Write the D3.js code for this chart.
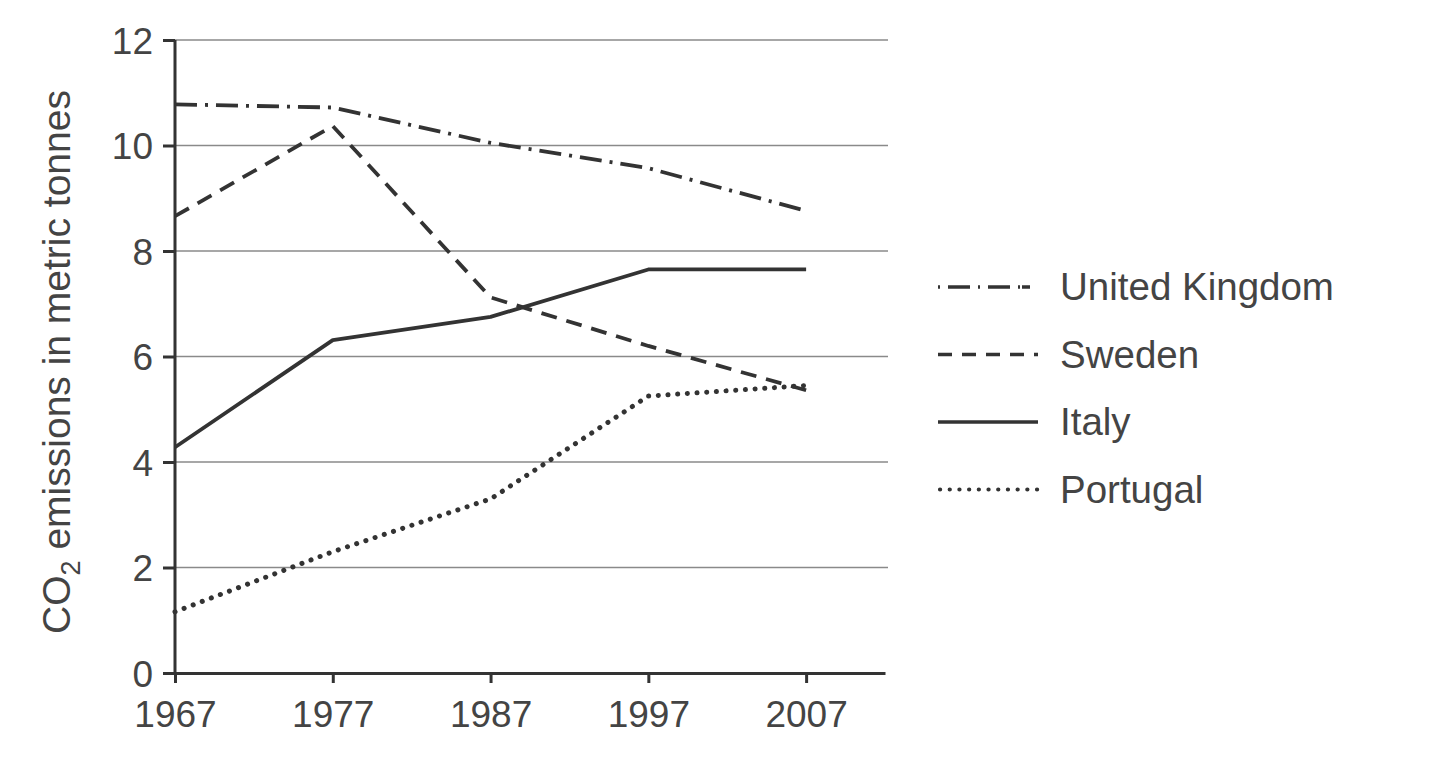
<!DOCTYPE html>
<html>
<head>
<meta charset="utf-8">
<script src="https://cdn.jsdelivr.net/npm/d3@7"></script>
<style>
  body { margin: 0; background: #fff; }
  svg { display: block; font-family: "Liberation Sans", Arial, sans-serif; }
</style>
</head>
<body>
<div id="chart"></div>
<script>
// data
const years = [1967, 1977, 1987, 1997, 2007];
const unitedKingdom = [10.78, 10.72, 10.05, 9.57, 8.76];
const sweden = [8.66, 10.37, 7.12, 6.2, 5.36];
const italy = [4.28, 6.31, 6.75, 7.65, 7.65];
const portugal = [1.16, 2.3, 3.3, 5.25, 5.45];
const yTicks = [0, 2, 4, 6, 8, 10, 12];

const series = [
    { name: "United Kingdom", values: unitedKingdom, dash: "22,8,3,8" },
    { name: "Sweden", values: sweden, dash: "16,10" },
    { name: "Italy", values: italy, dash: null },
    { name: "Portugal", values: portugal, dash: "0.1,9.6" }
];

const width = 1444, height = 766;
const marginLeft = 175, marginTop = 40, plotRight = 885, plotBottom = 673;

const svg = d3.select("#chart").append("svg")
    .attr("width", width)
    .attr("height", height);

const x = d3.scaleLinear().domain([1967, 2012]).range([marginLeft, plotRight]);
const y = d3.scaleLinear().domain([0, 12]).range([plotBottom, marginTop]);

// gridlines
svg.append("g")
    .selectAll("line")
    .data(yTicks.filter(d => d > 0))
    .enter().append("line")
    .attr("x1", marginLeft)
    .attr("x2", 888)
    .attr("y1", d => y(d))
    .attr("y2", d => y(d))
    .attr("stroke", "#8a8a8a")
    .attr("stroke-width", 1.6);

// axes
const yAxis = svg.append("g")
    .attr("transform", `translate(${marginLeft},0)`)
    .call(d3.axisLeft(y).tickValues(yTicks).tickSize(12).tickPadding(10).tickSizeOuter(0));

const xAxis = svg.append("g")
    .attr("transform", `translate(0,${plotBottom})`)
    .call(d3.axisBottom(x).tickValues(years).tickFormat(d3.format("d")).tickSize(10).tickPadding(18).tickSizeOuter(0));

[yAxis, xAxis].forEach(a => {
    a.select(".domain").attr("stroke", "#333").attr("stroke-width", 3);
    a.selectAll(".tick line").attr("stroke", "#333").attr("stroke-width", 3);
    a.selectAll(".tick text")
        .attr("fill", "#444")
        .style("font-size", "37px");
});
yAxis.select(".domain").attr("d", `M0,${plotBottom}V${marginTop}`);
yAxis.selectAll(".tick text").attr("dy", "0.36em");

// y label
const label = svg.append("text")
    .attr("transform", `translate(70,362) rotate(-90)`)
    .attr("text-anchor", "middle")
    .attr("fill", "#444")
    .style("font-size", "39px");
label.append("tspan").text("CO");
label.append("tspan").text("2").attr("dy", 10).style("font-size", "27px");
label.append("tspan").text(" emissions in metric tonnes").attr("dy", -10);

// lines
const line = d3.line()
    .x((d, i) => x(years[i]))
    .y(d => y(d));

svg.append("g")
    .selectAll("path")
    .data(series)
    .enter().append("path")
    .attr("d", d => line(d.values))
    .attr("fill", "none")
    .attr("stroke", "#333")
    .attr("stroke-linecap", d => d.name === "Portugal" ? "round" : "butt")
    .attr("stroke-linejoin", "round")
    .attr("stroke-width", d => d.name === "Portugal" ? 5 : 3.8)
    .attr("stroke-dasharray", d => d.dash);

// legend
const legend = svg.append("g")
    .selectAll("g")
    .data(series)
    .enter().append("g")
    .attr("transform", (d, i) => `translate(938,${287 + i * 67.5})`);

legend.append("line")
    .attr("x1", d => d.name === "Portugal" ? 2 : 0)
    .attr("x2", 100)
    .attr("stroke", "#333")
    .attr("stroke-width", d => d.name === "Portugal" ? 4.2 : 3.4)
    .attr("stroke-linecap", d => d.name === "Portugal" ? "round" : "butt")
    .attr("stroke-dasharray", d => d.name === "United Kingdom" ? "2,8,22,8,2,8,22,8,2"
        : d.name === "Sweden" ? "14,10" : d.name === "Portugal" ? "0.1,9.6" : null);

legend.append("text")
    .attr("x", 122)
    .attr("dy", "0.35em")
    .attr("fill", "#444")
    .style("font-size", "38.5px")
    .text(d => d.name);
</script>
</body>
</html>
